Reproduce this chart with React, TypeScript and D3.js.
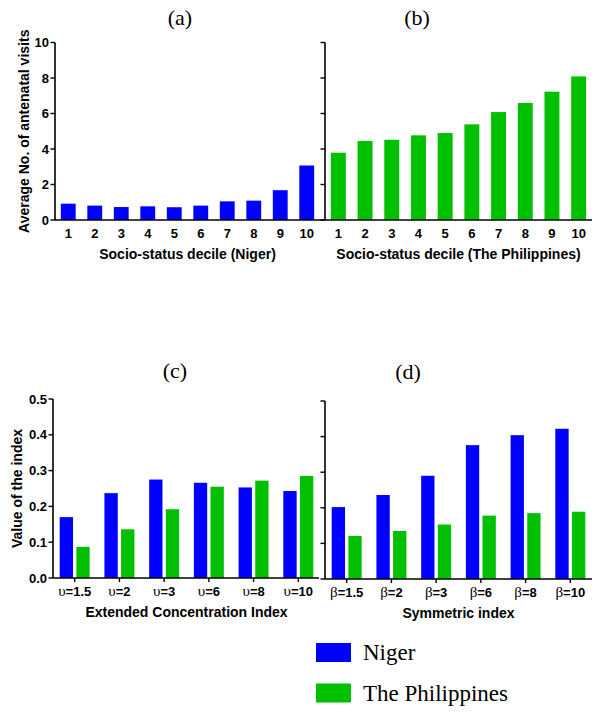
import React from 'react';
import * as d3 from 'd3';

// colours of the two countries
const BLUE = '#0000ff';
const GREEN = '#00c000';

// (a) and (b): average number of antenatal visits by socio-status decile
const deciles = ['1', '2', '3', '4', '5', '6', '7', '8', '9', '10'];
const nigerVisits = [0.92, 0.81, 0.73, 0.77, 0.72, 0.81, 1.05, 1.09, 1.68, 3.07];
const philVisits = [3.79, 4.45, 4.52, 4.77, 4.9, 5.39, 6.08, 6.59, 7.23, 8.09];
const visitTicks = [0, 2, 4, 6, 8, 10];

// (c) extended concentration index, (d) symmetric index
const paramLabels = ['1.5', '2', '3', '6', '8', '10'];
const eciNiger = [0.17, 0.237, 0.275, 0.266, 0.253, 0.243];
const eciPhil = [0.087, 0.136, 0.192, 0.255, 0.272, 0.285];
const symNiger = [0.202, 0.236, 0.29, 0.376, 0.404, 0.422];
const symPhil = [0.121, 0.135, 0.153, 0.178, 0.185, 0.189];
const indexTicks = [0, 0.1, 0.2, 0.3, 0.4, 0.5];

const legendItems = ['Niger', 'The Philippines'];

const SANS: React.CSSProperties = { fontFamily: "'Liberation Sans', Arial, Helvetica, sans-serif", fontWeight: 700 };
const SERIF: React.CSSProperties = { fontFamily: "'Liberation Serif', 'Times New Roman', Times, serif", fontWeight: 400 };

interface Series { values: number[]; color: string; }

interface PanelProps {
  x0: number; x1: number; axisEnd: number;
  yTop: number; yZero: number;
  max: number; ticks: number[]; tickLabels: boolean; tickFmt: (v: number) => string;
  cats: string[]; greek?: string; xTicks?: boolean;
  series: Series[];
  padInner: number;
  title: string; titleX: number; titleY: number;
  xTitle: string; yTitle?: string; yTitleX?: number;
}

function Panel(p: PanelProps) {
  const x = d3.scaleBand<string>().domain(p.cats).range([p.x0, p.x1])
    .paddingInner(p.padInner).paddingOuter(0.15);
  const sub = d3.scaleBand<number>().domain(d3.range(p.series.length))
    .range([0, x.bandwidth()]).paddingInner(0.2);
  const y = d3.scaleLinear().domain([0, p.max]).range([p.yZero, p.yTop]);

  return (
    <g>
      <text x={p.titleX} y={p.titleY} textAnchor="middle" style={SERIF} fontSize={22}>{p.title}</text>
      {p.series.map((s, si) =>
        s.values.map((v, i) => (
          <rect key={si + '-' + i}
            x={x(p.cats[i])! + sub(si)!} width={sub.bandwidth()}
            y={y(v)} height={y(0) - y(v)} fill={s.color} />
        ))
      )}
      {/* y axis */}
      <line x1={p.x0} x2={p.x0} y1={y(p.max)} y2={y(0)} stroke="#000" strokeWidth={1.6} />
      {p.ticks.map(t => (
        <g key={t}>
          <line x1={p.x0 - 4.5} x2={p.x0} y1={y(t)} y2={y(t)} stroke="#000" strokeWidth={1.4} />
          {p.tickLabels && (
            <text x={p.x0 - 6} y={y(t)} dy="0.35em" textAnchor="end"
              style={SANS} fontSize={13}>{p.tickFmt(t)}</text>
          )}
        </g>
      ))}
      {/* x axis */}
      <line x1={p.x0} x2={p.axisEnd} y1={y(0)} y2={y(0)} stroke="#000" strokeWidth={1.6} />
      {p.cats.map(c => {
        const cx = x(c)! + x.bandwidth() / 2;
        return (
          <g key={c}>
            {p.xTicks && <line x1={cx} x2={cx} y1={y(0)} y2={y(0) + 4} stroke="#000" strokeWidth={1.4} />}
            <text x={cx} y={y(0) + 17.5} textAnchor="middle" style={SANS} fontSize={13}>
              {p.greek && <tspan style={SERIF} fontSize={15}>{p.greek}</tspan>}
              {p.greek ? '=' + c : c}
            </text>
          </g>
        );
      })}
      <text x={(p.x0 + p.x1) / 2} y={y(0) + 39} textAnchor="middle"
        style={SANS} fontSize={14}>{p.xTitle}</text>
      {p.yTitle && (
        <text transform={`translate(${p.yTitleX},${(y(0) + y(p.max)) / 2}) rotate(-90)`}
          textAnchor="middle" style={SANS} fontSize={14}>{p.yTitle}</text>
      )}
    </g>
  );
}

export default function App() {
  const fmtInt = (v: number) => d3.format('d')(v);
  const fmt1 = (v: number) => d3.format('.1f')(v);
  return (
    <svg width={600} height={712} style={{ position: 'absolute', left: 0, top: 0, background: '#fff' }}>
      <rect width={600} height={712} fill="#fff" />
      <Panel x0={55} x1={320} axisEnd={325} yTop={42.5} yZero={220} max={10}
        ticks={visitTicks} tickLabels tickFmt={fmtInt} cats={deciles}
        series={[{ values: nigerVisits, color: BLUE }]} padInner={0.3}
        title="(a)" titleX={180} titleY={25}
        xTitle="Socio-status decile (Niger)" yTitle="Average No. of antenatal visits" yTitleX={29} />
      <Panel x0={325} x1={592} axisEnd={592} yTop={42.5} yZero={220} max={10}
        ticks={visitTicks} tickLabels={false} tickFmt={fmtInt} cats={deciles}
        series={[{ values: philVisits, color: GREEN }]} padInner={0.3}
        title="(b)" titleX={417} titleY={25}
        xTitle="Socio-status decile (The Philippines)" />
      <Panel x0={53} x1={320} axisEnd={319} yTop={399} yZero={578} max={0.5}
        ticks={indexTicks} tickLabels tickFmt={fmt1} cats={paramLabels} greek="υ" xTicks
        series={[{ values: eciNiger, color: BLUE }, { values: eciPhil, color: GREEN }]} padInner={0.33}
        title="(c)" titleX={175} titleY={378}
        xTitle="Extended Concentration Index" yTitle="Value of the index" yTitleX={22} />
      <Panel x0={325} x1={592} axisEnd={592} yTop={401} yZero={579} max={0.5}
        ticks={indexTicks} tickLabels={false} tickFmt={fmt1} cats={paramLabels} greek="β" xTicks
        series={[{ values: symNiger, color: BLUE }, { values: symPhil, color: GREEN }]} padInner={0.33}
        title="(d)" titleX={408} titleY={379}
        xTitle="Symmetric index" />
      {legendItems.map((name, i) => (
        <g key={name} transform={`translate(316,${643 + i * 40.5})`}>
          <rect width={35} height={19} fill={i === 0 ? BLUE : GREEN} />
          <text x={47} y={17} style={SERIF} fontSize={23}>{name}</text>
        </g>
      ))}
    </svg>
  );
}
